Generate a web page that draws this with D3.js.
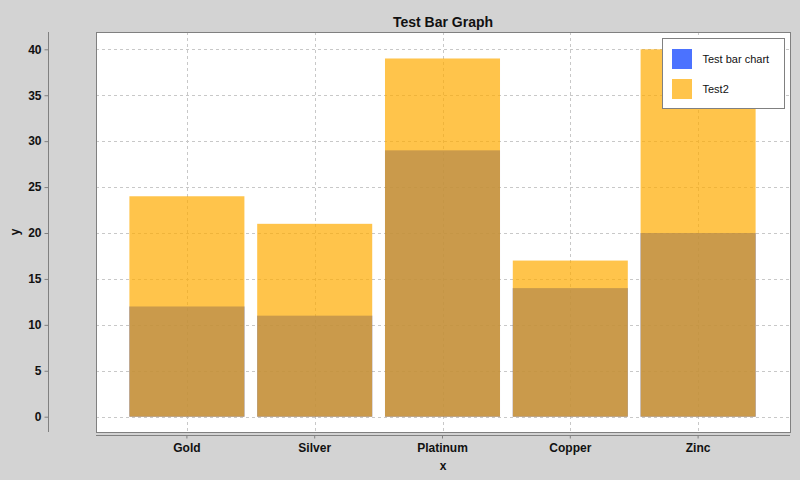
<!DOCTYPE html>
<html>
<head>
<meta charset="utf-8">
<script src="https://cdn.jsdelivr.net/npm/d3@7"></script>
<style>
  body { margin: 0; background: #d3d3d3; }
  svg text { font-family: "Liberation Sans", Arial, sans-serif; fill: #111; }
</style>
</head>
<body>
<div id="chart"></div>
<script>
const categories = ['Gold', 'Silver', 'Platinum', 'Copper', 'Zinc'];
const seriesNames = ['Test bar chart', 'Test2'];
const testBarChart = [12, 11, 29, 14, 20];
const test2 = [24, 21, 39, 17, 40];
const yTicks = [0, 5, 10, 15, 20, 25, 30, 35, 40];

const width = 800, height = 480;
const plot = { left: 96, right: 790, top: 32, bottom: 432 };
const colors = ['rgb(0,55,255)', 'rgb(255,172,0)'];
const alpha = 180 / 255;

const svg = d3.select('#chart').append('svg')
  .attr('width', width)
  .attr('height', height);

svg.append('rect')
  .attr('width', width).attr('height', height)
  .attr('fill', '#d3d3d3');

let x = d3.scaleBand()
  .domain(categories)
  .range([plot.left + 27, plot.right - 28])
  .paddingInner(0.1)
  .paddingOuter(0.05);

// 0 sits at 416.7, 40 at 49.3
let y = d3.scaleLinear()
  .domain([0, 40])
  .range([416.7, 49.3]);

// plot background
svg.append('rect')
  .attr('x', plot.left + 0.5).attr('y', plot.top + 0.5)
  .attr('width', plot.right - plot.left).attr('height', plot.bottom - plot.top)
  .attr('fill', '#fff');

// grid
svg.append('g').selectAll('line.h')
  .data(yTicks)
  .enter().append('line')
  .attr('x1', plot.left).attr('x2', plot.right)
  .attr('y1', d => Math.round(y(d)) + 0.5).attr('y2', d => Math.round(y(d)) + 0.5)
  .attr('stroke', '#c8c8c8').attr('stroke-dasharray', '3,3');

svg.append('g').selectAll('line.v')
  .data(categories)
  .enter().append('line')
  .attr('x1', d => Math.round(x(d) + x.bandwidth() / 2) + 0.5)
  .attr('x2', d => Math.round(x(d) + x.bandwidth() / 2) + 0.5)
  .attr('y1', plot.top).attr('y2', plot.bottom)
  .attr('stroke', '#c8c8c8').attr('stroke-dasharray', '3,3');

// bars, blue first then orange on top
[testBarChart, test2].forEach((vals, i) => {
  svg.append('g').selectAll('rect')
    .data(vals)
    .enter().append('rect')
    .attr('x', (d, j) => x(categories[j]))
    .attr('width', x.bandwidth())
    .attr('y', d => y(d))
    .attr('height', d => y(0) - y(d))
    .attr('fill', colors[i])
    .attr('fill-opacity', alpha);
});

// plot border
svg.append('rect')
  .attr('x', plot.left + 0.5).attr('y', plot.top + 0.5)
  .attr('width', plot.right - plot.left).attr('height', plot.bottom - plot.top)
  .attr('fill', 'none').attr('stroke', '#808080');

// y axis
let yAxis = d3.axisLeft(y).tickValues(yTicks).tickSize(4).tickPadding(3);
let gy = svg.append('g')
  .attr('transform', 'translate(48.5,0)')
  .call(yAxis);
gy.select('.domain').attr('d', `M0,${plot.top}V${plot.bottom}`).attr('stroke', '#808080');
gy.selectAll('.tick line').attr('stroke', '#808080');
gy.selectAll('.tick text')
  .style('font-family', '"Liberation Sans", Arial, sans-serif')
  .style('font-size', '12px').style('font-weight', 'bold').attr('fill', '#111');

// x axis
let xAxis = d3.axisBottom(x).tickSize(3).tickPadding(5);
let gx = svg.append('g')
  .attr('transform', 'translate(0,435.5)')
  .call(xAxis);
gx.select('.domain').attr('d', `M${plot.left},0H${plot.right}`).attr('stroke', '#808080');
gx.selectAll('.tick line').attr('stroke', '#808080');
gx.selectAll('.tick text')
  .style('font-family', '"Liberation Sans", Arial, sans-serif')
  .style('font-size', '12px').style('font-weight', 'bold').attr('fill', '#111');

// titles
svg.append('text')
  .attr('x', (plot.left + plot.right) / 2).attr('y', 27)
  .attr('text-anchor', 'middle')
  .style('font-size', '14px').style('font-weight', 'bold')
  .text('Test Bar Graph');

svg.append('text')
  .attr('x', (plot.left + plot.right) / 2).attr('y', 470)
  .attr('text-anchor', 'middle')
  .style('font-size', '12px').style('font-weight', 'bold')
  .text('x');

svg.append('text')
  .attr('transform', `translate(19,${(plot.top + plot.bottom) / 2}) rotate(-90)`)
  .attr('text-anchor', 'middle')
  .style('font-size', '12px').style('font-weight', 'bold')
  .text('y');

// legend
let legend = svg.append('g').attr('transform', 'translate(662.5,38.5)');
legend.append('rect')
  .attr('width', 122).attr('height', 70)
  .attr('fill', '#fff').attr('stroke', '#808080');
seriesNames.forEach((name, i) => {
  legend.append('rect')
    .attr('x', 9.5).attr('y', 10.5 + i * 30)
    .attr('width', 20).attr('height', 20)
    .attr('fill', colors[i]).attr('fill-opacity', alpha);
  legend.append('text')
    .attr('x', 40).attr('y', 20.5 + i * 30)
    .attr('dy', '0.35em')
    .style('font-size', '11px')
    .text(name);
});
</script>
</body>
</html>
